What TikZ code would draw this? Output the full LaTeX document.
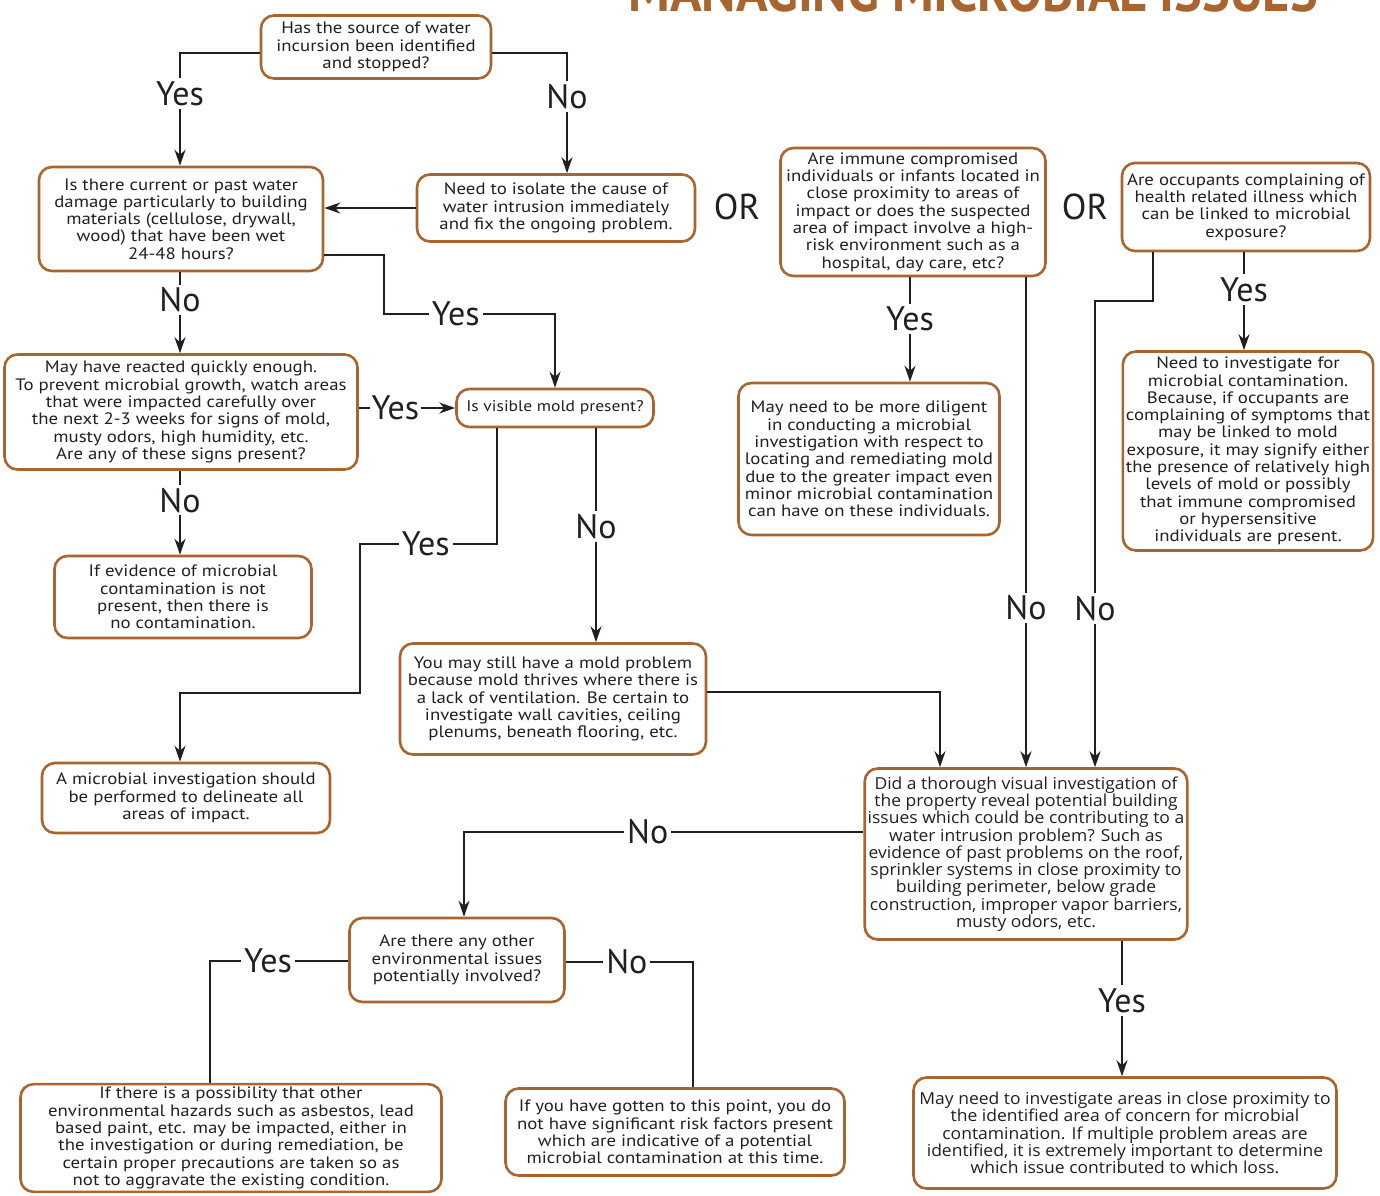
\documentclass[tikz,border=0pt]{standalone}
\usepackage{fontspec}
\setmainfont{PT Sans}
\newfontfamily\boxfont[FakeStretch=1.14]{PT Sans}
\newfontfamily\widefont[FakeStretch=1.06]{Open Sans}
\newfontfamily\titlefont[FakeStretch=0.9]{PT Sans}
\usetikzlibrary{arrows.meta}
\definecolor{boxbrown}{HTML}{A8652F}
\definecolor{ink}{HTML}{231F20}
\begin{document}
\begin{tikzpicture}[x=1pt, y=-1pt,
    box/.style={draw=boxbrown, line width=2.6pt, rounded corners=13pt, fill=white,
        align=center, inner sep=3pt, text=ink, font=\boxfont\fontsize{16.5}{17.3}\selectfont},
    widebox/.style={box, font=\widefont\fontsize{16.5}{17.3}\selectfont},
    lab/.style={fill=white, inner sep=3pt, text=ink, font=\fontsize{34}{34}\selectfont},
    arr/.style={draw=ink, line width=2.4pt, -{Stealth[length=16pt,width=11pt]}},
    link/.style={draw=ink, line width=2.4pt}]
    \useasboundingbox (0,0) rectangle (1380,1195);

    % Title
    \node[anchor=base east, inner sep=0pt, text=boxbrown, font=\titlefont\bfseries\fontsize{58}{58}\selectfont]
        (title) at (1318,11) {MANAGING MICROBIAL ISSUES};

    % Left column
    \node[box, minimum width=230, minimum height=63] (source) at (376,47)
        {Has the source of water\\incursion been identified\\and stopped?};
    \node[box, minimum width=284, minimum height=104] (damage) at (181,219)
        {Is there current or past water\\damage particularly to building\\materials (cellulose, drywall,\\wood) that have been wet\\24-48 hours?};
    \node[box, minimum width=278, minimum height=67] (fix) at (556,208)
        {Need to isolate the cause of\\water intrusion immediately\\and fix the ongoing problem.};
    \node[box, minimum width=353, minimum height=115] (watch) at (181,412)
        {May have reacted quickly enough.\\To prevent microbial growth, watch areas\\that were impacted carefully over\\the next 2-3 weeks for signs of mold,\\musty odors, high humidity, etc.\\Are any of these signs present?};
    \node[box, minimum width=197, minimum height=38, font=\boxfont\fontsize{15.4}{17.3}\selectfont] (mold) at (555,408)
        {Is visible mold present?};
    \node[box, minimum width=257, minimum height=82] (nocont) at (183,597)
        {If evidence of microbial\\contamination is not\\present, then there is\\no contamination.};
    \node[box, minimum width=288, minimum height=70] (invest) at (186,798)
        {A microbial investigation should\\be performed to delineate all\\areas of impact.};
    \node[box, minimum width=306, minimum height=111] (ventil) at (553,699)
        {You may still have a mold problem\\because mold thrives where there is\\a lack of ventilation. Be certain to\\investigate wall cavities, ceiling\\plenums, beneath flooring, etc.};

    % Right column
    \node[box, minimum width=265, minimum height=128] (immune) at (913,212)
        {Are immune compromised\\individuals or infants located in\\close proximity to areas of\\impact or does the suspected\\area of impact involve a high-\\risk environment such as a\\hospital, day care, etc?};
    \node[box, minimum width=261, minimum height=152] (diligent) at (869,459)
        {May need to be more diligent\\in conducting a microbial\\investigation with respect to\\locating and remediating mold\\due to the greater impact even\\minor microbial contamination\\can have on these individuals.};
    \node[box, minimum width=248, minimum height=88] (occup) at (1246,207)
        {Are occupants complaining of\\health related illness which\\can be linked to microbial\\exposure?};
    \node[box, minimum width=249, minimum height=199] (needinv) at (1248,451)
        {Need to investigate for\\microbial contamination.\\Because, if occupants are\\complaining of symptoms that\\may be linked to mold\\exposure, it may signify either\\the presence of relatively high\\levels of mold or possibly\\that immune compromised\\or hypersensitive\\individuals are present.};
    \node[lab, fill=none, font=\fontsize{36}{36}\selectfont] (or1) at (737,207) {OR};
    \node[lab, fill=none, font=\fontsize{36}{36}\selectfont] (or2) at (1085,207) {OR};

    % Bottom
    \node[widebox, minimum width=321, minimum height=171] (visual) at (1026,854)
        {Did a thorough visual investigation of\\the property reveal potential building\\issues which could be contributing to a\\water intrusion problem? Such as\\evidence of past problems on the roof,\\sprinkler systems in close proximity to\\building perimeter, below grade\\construction, improper vapor barriers,\\musty odors, etc.};
    \node[box, minimum width=215, minimum height=84] (other) at (457,960)
        {Are there any other\\environmental issues\\potentially involved?};
    \node[box, minimum width=421, minimum height=107] (hazards) at (231,1138)
        {If there is a possibility that other\\environmental hazards such as asbestos, lead\\based paint, etc. may be impacted, either in\\the investigation or during remediation, be\\certain proper precautions are taken so as\\not to aggravate the existing condition.};
    \node[box, minimum width=339, minimum height=87] (nosig) at (675,1132)
        {If you have gotten to this point, you do\\not have significant risk factors present\\which are indicative of a potential\\microbial contamination at this time.};
    \node[widebox, minimum width=423, minimum height=111] (proximity) at (1125,1133)
        {May need to investigate areas in close proximity to\\the identified area of concern for microbial\\contamination. If multiple problem areas are\\identified, it is extremely important to determine\\which issue contributed to which loss.};

    % Water source
    \draw[arr] ([yshift=-6pt]source.west) -| node[lab, pos=0.68] {Yes} ([xshift=-1pt]damage.north);
    \draw[arr] ([yshift=-6pt]source.east) -| node[lab, pos=0.68] {No} ([xshift=11pt]fix.north);
    \draw[arr] (fix.west) -- (fix.west -| damage.east);

    % Water damage
    \draw[arr] ([xshift=-1pt]damage.south) -- node[lab, pos=0.34] {No} ([xshift=-1pt]watch.north);
    \draw[arr] ([yshift=-36pt]damage.east) -| (384,314) -| node[lab, pos=0.21] {Yes} (mold.north);
    \draw[arr] (watch.east |- mold.west) -- node[lab, pos=0.38, inner sep=2pt] {Yes} (mold.west);
    \draw[arr] ([xshift=-1pt]watch.south) -- node[lab, pos=0.35] {No} ([xshift=-3pt]nocont.north);

    % Visible mold
    \draw[arr] ([xshift=-58pt]mold.south) |- node[lab, pos=0.76] {Yes} (360,544) -- (360,693) -| ([xshift=-6pt]invest.north);
    \draw[arr] ([xshift=41pt]mold.south) -- node[lab, pos=0.46] {No} ([xshift=41pt]mold.south |- ventil.north);
    \draw[arr] ([yshift=7pt]ventil.east) -| ([xshift=-86pt]visual.north);

    % Immune and occupants
    \draw[arr] ([xshift=-3pt]immune.south) -- node[lab, pos=0.4] {Yes} ([xshift=-3pt]immune.south |- diligent.north);
    \draw[arr] ([xshift=113pt]immune.south) -- node[lab, pos=0.675] {No} (visual.north);
    \draw[arr] ([xshift=-93pt]occup.south) |- (1095,301) -- node[lab, pos=0.66] {No} ([xshift=69pt]visual.north);
    \draw[arr] ([xshift=-2pt]occup.south) -- node[lab, pos=0.38] {Yes} ([xshift=-2pt]occup.south |- needinv.north);

    % Visual investigation
    \draw[arr] ([yshift=22pt]visual.west) -| node[lab, pos=0.27] {No} ([xshift=7pt]other.north);
    \draw[arr] ([xshift=96pt]visual.south) -- node[lab, pos=0.44] {Yes} ([xshift=96pt]visual.south |- proximity.north);

    % Other issues
    \draw[link] ([yshift=-1pt]other.west) -| node[lab, pos=0.29] {Yes} ([xshift=-21pt]hazards.north);
    \draw[link] ([yshift=-2pt]other.east) -| node[lab, pos=0.24] {No} ([xshift=18pt]nosig.north);
\end{tikzpicture}
\end{document}
